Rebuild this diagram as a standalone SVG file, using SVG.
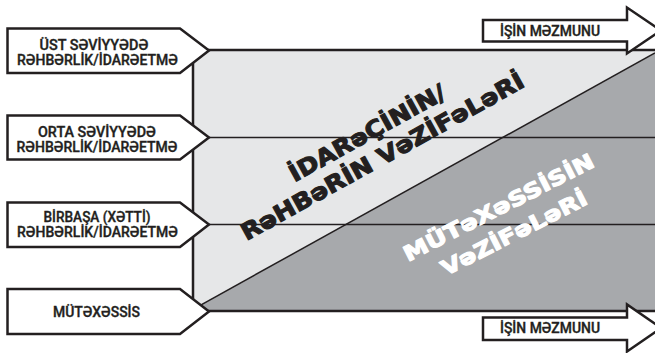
<svg xmlns="http://www.w3.org/2000/svg" width="655" height="353" viewBox="0 0 655 353">
  <style>
    .box { fill: #ffffff; stroke: #231f20; stroke-width: 2.5; stroke-linejoin: miter; }
    .lbl { font-family: Roboto, "Liberation Sans", Arial, sans-serif; font-weight: 500; font-size: 14px; fill: #231f20; stroke: #231f20; stroke-width: 0.35; text-anchor: middle; }
    .thin { stroke: #231f20; stroke-width: 1.5; fill: none; }
    .thick { stroke: #231f20; stroke-width: 2.5; fill: none; }
    .diag { font-family: "DejaVu Sans", "Liberation Sans", sans-serif; font-weight: bold; text-anchor: middle; stroke-width: 1.1; stroke-linejoin: round; }
  </style>

  <g id="panel">
    <rect x="193" y="50" width="470" height="261" fill="#e6e7e8"/>
    <polygon points="193,309.3 655,53 655,311 193,311" fill="#a7a9ac"/>
  </g>

  <g id="connectors">
    <line class="thin" x1="193" y1="137.5" x2="655" y2="137.5"/>
    <line class="thin" x1="193" y1="224.5" x2="655" y2="224.5"/>
    <line class="thin" x1="193" y1="309.3" x2="655" y2="53"/>
    <line class="thick" x1="193" y1="50" x2="655" y2="50"/>
    <line class="thick" x1="193" y1="50" x2="193" y2="311"/>
    <line class="thick" x1="193" y1="311" x2="655" y2="311"/>
  </g>

  <g id="manager-duties" class="diag" fill="#231f20" stroke="#231f20" font-size="23" transform="translate(371,140) rotate(-29)">
    <text x="0" y="0" textLength="175" lengthAdjust="spacingAndGlyphs">İDARəÇİNİN/</text>
    <text x="2" y="28" textLength="320" lengthAdjust="spacingAndGlyphs">RəHBəRİN VəZİFəLəRİ</text>
  </g>

  <g id="specialist-duties" class="diag" fill="#ffffff" stroke="#ffffff" font-size="21" transform="translate(502,214) rotate(-27)">
    <text x="0" y="0" textLength="211" lengthAdjust="spacingAndGlyphs">MÜTəXəSSİSİN</text>
    <text x="2" y="30" textLength="161" lengthAdjust="spacingAndGlyphs">VəZİFəLəRİ</text>
  </g>

  <g id="top-level">
    <polygon class="box" points="7.5,28.5 180,28.5 209,50.5 180,73 7.5,73"/>
    <text class="lbl" x="94" y="50" textLength="109" lengthAdjust="spacingAndGlyphs">ÜST SƏVİYYƏDƏ</text>
    <text class="lbl" x="97.5" y="64.5" textLength="161" lengthAdjust="spacingAndGlyphs">RƏHBƏRLİK/İDARƏETMƏ</text>
  </g>

  <g id="middle-level">
    <polygon class="box" points="7.5,115.5 180,115.5 209,137.5 180,159.5 7.5,159.5"/>
    <text class="lbl" x="97" y="137" textLength="118" lengthAdjust="spacingAndGlyphs">ORTA SƏVİYYƏDƏ</text>
    <text class="lbl" x="97" y="152" textLength="161" lengthAdjust="spacingAndGlyphs">RƏHBƏRLİK/İDARƏETMƏ</text>
  </g>

  <g id="line-level">
    <polygon class="box" points="7.5,202.5 180,202.5 209,224.5 180,247 7.5,247"/>
    <text class="lbl" x="97" y="222.3" textLength="107" lengthAdjust="spacingAndGlyphs">BİRBAŞA (XƏTTİ)</text>
    <text class="lbl" x="97.5" y="237.3" textLength="161" lengthAdjust="spacingAndGlyphs">RƏHBƏRLİK/İDARƏETMƏ</text>
  </g>

  <g id="specialist">
    <polygon class="box" points="7.5,289 180,289 209,311.5 180,334 7.5,334"/>
    <text class="lbl" x="96.5" y="316.7" textLength="87" lengthAdjust="spacingAndGlyphs">MÜTƏXƏSSİS</text>
  </g>

  <g id="top-arrow">
    <path class="box" d="M483,20 H627 V7.5 L661,30.5 L627,53.5 V41.5 H483 Z"/>
    <text class="lbl" x="550" y="35.5" textLength="100" lengthAdjust="spacingAndGlyphs">İŞİN MƏZMUNU</text>
  </g>

  <g id="bottom-arrow">
    <path class="box" d="M483,317.5 H627 V304.5 L661,328 L627,351.5 V340 H483 Z"/>
    <text class="lbl" x="550" y="333" textLength="100" lengthAdjust="spacingAndGlyphs">İŞİN MƏZMUNU</text>
  </g>
</svg>
